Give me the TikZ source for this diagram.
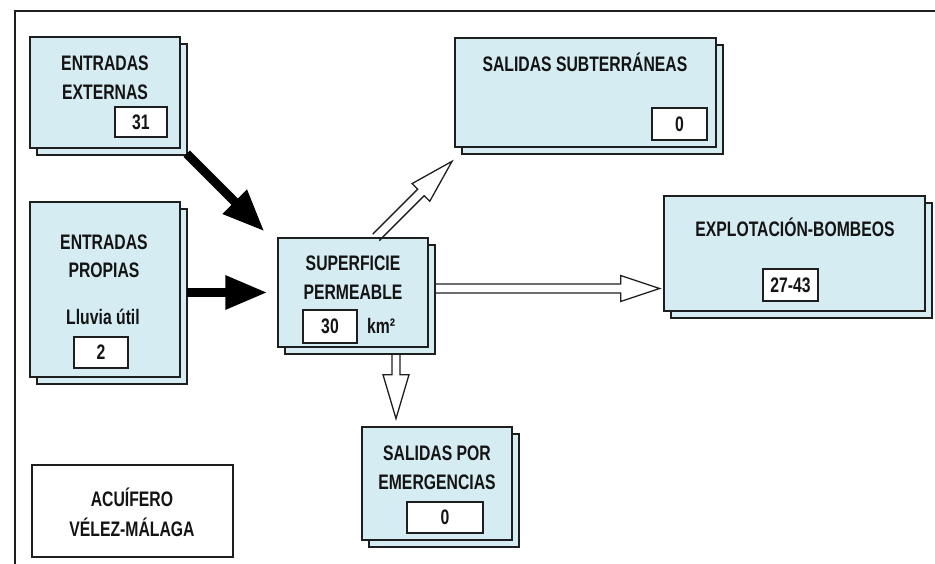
\documentclass[tikz,border=0pt]{standalone}
\usepackage{fontspec}
\setmainfont{Liberation Sans}[FakeStretch=0.75]
\usetikzlibrary{arrows.meta,shadows}
\definecolor{boxblue}{RGB}{214,236,243}
\definecolor{linec}{RGB}{30,30,30}
\definecolor{textc}{RGB}{20,20,20}
\begin{document}
\begin{tikzpicture}[x=1pt,y=-1pt,
  panel/.style={rectangle, draw=linec, line width=1.3pt, fill=boxblue, inner sep=0pt,
    copy shadow={shadow xshift=7pt, shadow yshift=-7pt}},
  plainbox/.style={rectangle, draw=linec, line width=1.3pt, fill=white, inner sep=0pt},
  lbl/.style={font=\fontsize{21}{24}\selectfont\bfseries, text=textc, inner sep=0pt},
  valbox/.style={rectangle, draw=linec, line width=1.3pt, fill=white, inner sep=0pt,
    font=\fontsize{21}{24}\selectfont\bfseries, text=textc},
  hollow/.style={draw=linec, line width=1.3pt, line join=miter},
  solidarrow/.style={draw=black, line width=9pt, -{Triangle[length=42pt,width=32pt]}}]
\useasboundingbox (0,0) rectangle (935,564);
% frame
\coordinate (fTL) at (15,11);
\coordinate (fTR) at (935,11);
\coordinate (fBL) at (15,564);
\draw[line width=1.8pt, linec] (fTR) -- (fTL) -- (fBL);

% panels
\node[panel, minimum width=150pt, minimum height=111pt] (ext) at (105,92.5) {};
\node[panel, minimum width=150pt, minimum height=175pt] (prop) at (105,289.5) {};
\node[panel, minimum width=150pt, minimum height=109pt] (sup) at (353,292.5) {};
\node[panel, minimum width=261pt, minimum height=109pt] (sub) at (585.5,92.5) {};
\node[panel, minimum width=261pt, minimum height=115pt] (exp) at (794.5,253.5) {};
\node[panel, minimum width=150pt, minimum height=113pt] (emer) at (437,483.5) {};
\node[plainbox, minimum width=201pt, minimum height=92pt] (acu) at (132.5,511) {};

% texts
\node[lbl] (t1) at (105,63) {ENTRADAS};
\node[lbl] (t2) at (105,92) {EXTERNAS};
\node[valbox, minimum width=52pt, minimum height=30pt] (v1) at (141,122) {31};

\node[lbl] (t3) at (104,242) {ENTRADAS};
\node[lbl] (t4) at (104,270) {PROPIAS};
\node[lbl] (t5) at (103,317) {Lluvia útil};
\node[valbox, minimum width=54pt, minimum height=31pt] (v2) at (101,352.5) {2};

\node[lbl] (t6) at (353,263) {SUPERFICIE};
\node[lbl] (t7) at (353,292) {PERMEABLE};
\node[valbox, minimum width=54pt, minimum height=33pt] (v3) at (330,326.5) {30};
\node[lbl, anchor=west] (t8) at (367,326) {km²};

\node[lbl] (t9) at (585,62) {SALIDAS SUBTERRÁNEAS};
\node[valbox, minimum width=55pt, minimum height=32pt] (v4) at (679.5,124) {0};

\node[lbl] (t10) at (795,227) {EXPLOTACIÓN-BOMBEOS};
\node[valbox, minimum width=55pt, minimum height=32pt] (v5) at (790.5,285) {27-43};

\node[lbl] (t11) at (437,453) {SALIDAS POR};
\node[lbl] (t12) at (437,482) {EMERGENCIAS};
\node[valbox, minimum width=76pt, minimum height=31pt] (v6) at (445,517.5) {0};

\node[lbl] (t13) at (132,497) {ACUÍFERO};
\node[lbl] (t14) at (132,527) {VÉLEZ-MÁLAGA};

% solid arrows
\coordinate (s1) at ([shift={(6pt,-5pt)}]ext.south east);
\coordinate (e1) at ([shift={(-13pt,6pt)}]sup.north west);
\draw[solidarrow] (s1) -- (e1);
\coordinate (s2) at ([shift={(6pt,0pt)}]prop.east);
\coordinate (e2) at ([xshift=-10pt]sup.west);
\draw[solidarrow] (s2 |- e2) -- (e2);

% hollow arrows
\coordinate (h1) at ([xshift=23pt]sup.north);
\draw[hollow, shift={(h1)}, rotate=45]
  (0,-4.6) -- (63.5,-4.6) -- (63.5,-12.5) -- (107.5,0) -- (63.5,12.5) -- (63.5,4.6) -- (0,4.6);
\coordinate (h2) at ([xshift=7pt,yshift=4pt]sup.east);
\draw[hollow, shift={(h2)}]
  (0,-4.5) -- (185,-4.5) -- (185,-13) -- (224,0) -- (185,13) -- (185,4.5) -- (0,4.5);
\coordinate (h3) at ([xshift=43pt,yshift=-7pt]sup.south);
\draw[hollow, shift={(h3)}, rotate=-90]
  (0,-4) -- (20,-4) -- (20,-13) -- (64,0) -- (20,13) -- (20,4) -- (0,4);
\end{tikzpicture}
\end{document}
